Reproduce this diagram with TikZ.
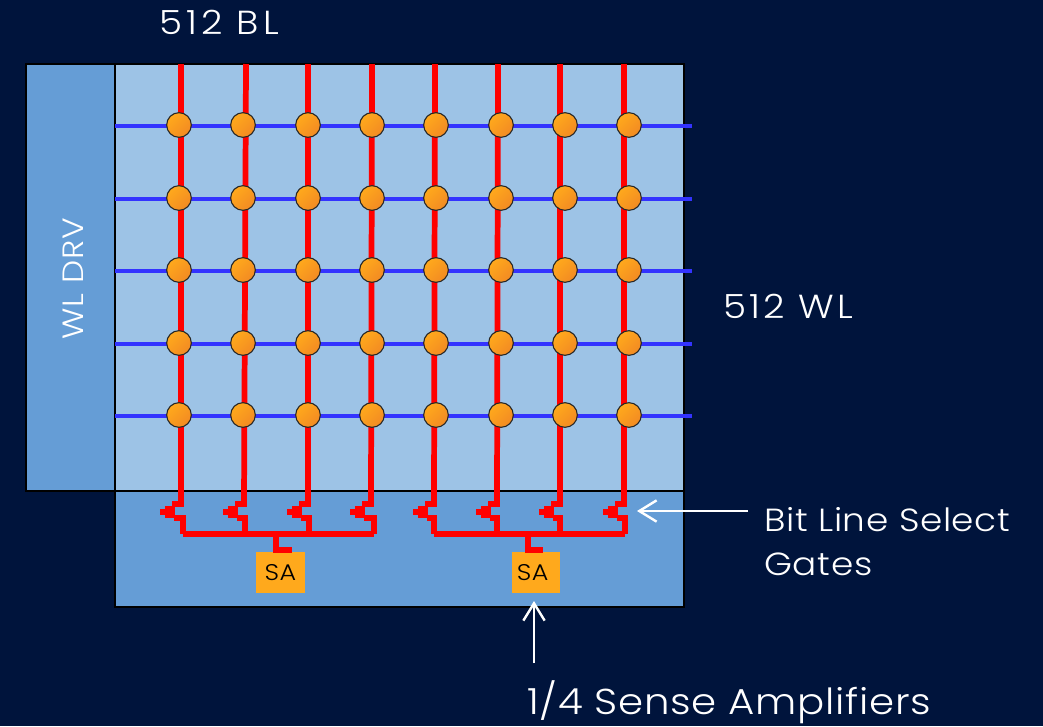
\documentclass[tikz,border=0pt]{standalone}
\usepackage{fontspec}
\setmainfont{Poppins}[UprightFont=* Light,FakeStretch=1.12]
\usetikzlibrary{calc,arrows.meta}
\definecolor{bgnavy}{HTML}{00143C}
\definecolor{arraylight}{HTML}{9DC3E6}
\definecolor{paneldark}{HTML}{659DD6}
\definecolor{cellorange}{HTML}{FFA91C}
\definecolor{celldark}{HTML}{F28A23}
\definecolor{wlblue}{HTML}{3333FF}
\newcommand{\spaced}[1]{\addfontfeature{LetterSpace=#1}}
\tikzset{
	panel/.style={draw=black,line width=2.2pt},
	bitline/.style={red,line width=4.3pt},
	wordline/.style={wlblue,line width=3.5pt},
	cell/.style={circle,draw=black!85,line width=0.8pt,minimum size=18.5pt,inner sep=0pt,left color=cellorange,right color=celldark,shading angle=45},
	senseamp/.style={fill=cellorange,text=black,minimum width=36.5pt,minimum height=30.5pt,inner sep=0pt,font=\fontsize{17}{17}\selectfont\spaced{2}},
	caption/.style={text=white,inner sep=0pt,font=\fontsize{25}{33}\selectfont},
	pointer/.style={draw=white,line width=1.8pt,-{Straight Barb[length=13pt,width=16pt,line width=1.8pt]}}
}
\begin{document}
\begin{tikzpicture}[x=0.75pt,y=-0.75pt]
	\useasboundingbox (0,0) rectangle (1043,726);
	\fill[bgnavy] (0,0) rectangle (1043,726);
	\draw[panel,fill=paneldark] (26,64) rectangle (115,491);
	\draw[panel,fill=arraylight] (115,64) rectangle (684,491);
	\draw[panel,fill=paneldark] (115,491) rectangle (684,607);
	\foreach \r/\yy in {1/125,2/198,3/270,4/343,5/415} {
		\coordinate (wlstart\r) at (115,\yy+1);
		\coordinate (wlend\r) at (692,\yy+1);
		\draw[wordline] (wlstart\r) -- (wlend\r);
	}
	\foreach \c/\xt/\xb/\xs in {1/181/181/183,2/246/244/245,3/308/308/309,4/372/371/374,5/435/434/434,6/498/497/497,7/560/560/560,8/624/624/625} {
		\coordinate (bltop\c) at (\xt,64);
		\coordinate (blbot\c) at (\xb,504);
		\coordinate (blsrc\c) at (\xs,534);
		\draw[bitline] (bltop\c) -- (blbot\c) -- ++(-9,0);
		\fill[red] (\xb-16,506) rectangle (\xb-6,518);
		\fill[red] (\xb-21,509) rectangle (\xb-16,515);
		\draw[bitline] (\xb-7,518) -- (\xs,518) -- (blsrc\c);
	}
	\draw[bitline] (blsrc1) -- (blsrc4);
	\draw[bitline] (blsrc5) -- (blsrc8);
	\foreach \c/\xx in {1/179,2/243,3/308,4/372,5/436,6/501,7/565,8/629} {
		\foreach \r/\yy in {1/125,2/198,3/270,4/343,5/415} {
			\node[cell] (cell\c\r) at (\xx,\yy) {};
		}
	}
	\node[senseamp] (saleft) at (280.5,572.5) {SA};
	\node[senseamp] (saright) at (536,572.5) {SA\kern5pt};
	\coordinate (tapleft) at (276,534);
	\coordinate (tapright) at (528,534);
	\draw[bitline] (tapleft) |- ($(saleft.north)+(11,-2)$);
	\draw[bitline] (tapright) |- ($(saright.north)+(7,-2)$);
	\node[caption,rotate=90,font=\fontsize{22}{33}\selectfont\spaced{3}] (wldrv) at (73,279) {WL DRV};
	\node[caption,anchor=west,font=\fontsize{25}{33}\selectfont\spaced{12}] (blcount) at (159,22) {512 BL};
	\node[caption,anchor=west,font=\fontsize{25}{33}\selectfont\spaced{10}] (wlcount) at (723,306) {512 WL};
	\node[caption,anchor=west,align=left,font=\fontsize{24}{33}\selectfont\spaced{2}] (gatetext) at (764,542) {Bit Line Select\\Gates};
	\node[caption,anchor=west,font=\fontsize{27}{30}\selectfont\spaced{2}] (satext) at (527,702) {1/4 Sense Amplifiers};
	\coordinate (gatefrom) at (748,511);
	\coordinate (gateto) at (637,511);
	\coordinate (safrom) at (534,663);
	\coordinate (sato) at (534,601);
	\draw[pointer] (gatefrom) -- (gateto);
	\draw[pointer] (safrom) -- (sato);
\end{tikzpicture}
\end{document}
